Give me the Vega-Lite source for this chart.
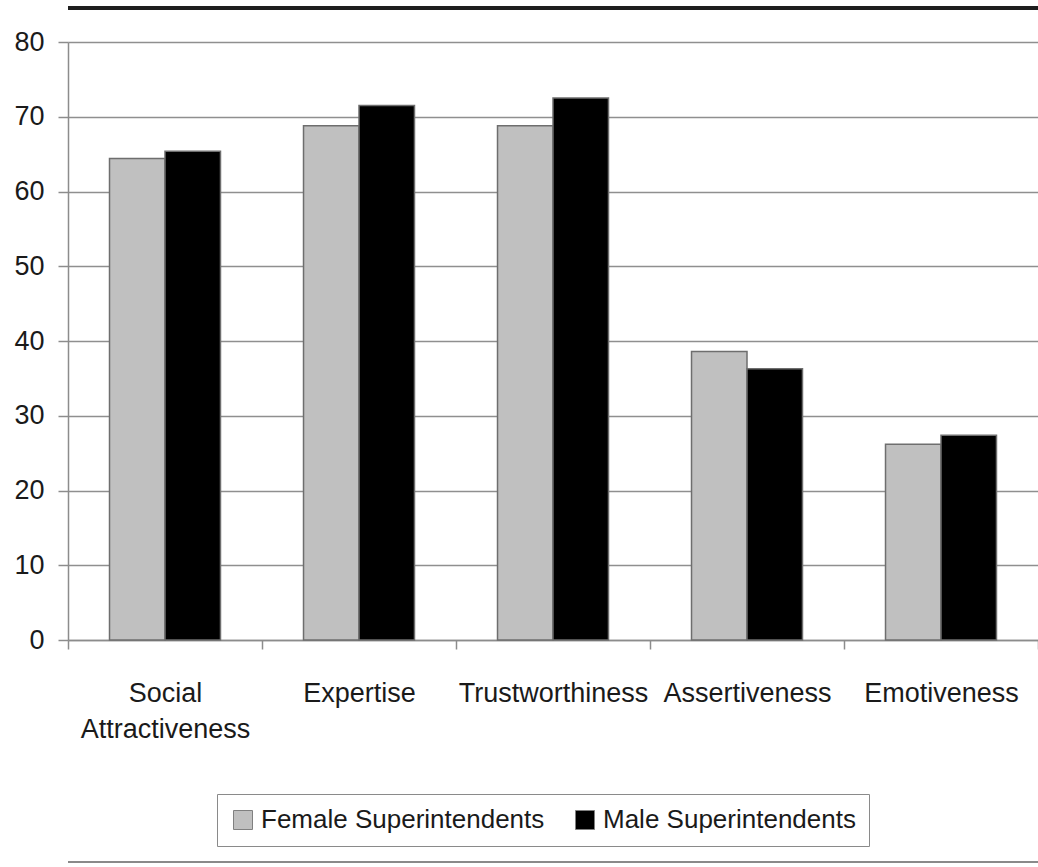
{
  "$schema": "https://vega.github.io/schema/vega-lite/v6.json",
  "width": 970,
  "height": 598,
  "autosize": {"type": "none"},
  "padding": {"left": 68, "top": 42, "right": 0, "bottom": 227},
  "background": "white",
  "config": {"view": {"stroke": null}, "font": "Liberation Sans"},
  "data": {
    "values": [
      {"trait": "Social Attractiveness", "group": "Female Superintendents", "score": 64.4},
      {"trait": "Social Attractiveness", "group": "Male Superintendents", "score": 65.4},
      {"trait": "Expertise", "group": "Female Superintendents", "score": 68.8},
      {"trait": "Expertise", "group": "Male Superintendents", "score": 71.5},
      {"trait": "Trustworthiness", "group": "Female Superintendents", "score": 68.8},
      {"trait": "Trustworthiness", "group": "Male Superintendents", "score": 72.5},
      {"trait": "Assertiveness", "group": "Female Superintendents", "score": 38.6},
      {"trait": "Assertiveness", "group": "Male Superintendents", "score": 36.3},
      {"trait": "Emotiveness", "group": "Female Superintendents", "score": 26.2},
      {"trait": "Emotiveness", "group": "Male Superintendents", "score": 27.4}
    ]
  },
  "layer": [
    {
      "mark": {"type": "bar", "stroke": "#6e6e6e", "strokeWidth": 1.5},
      "encoding": {
        "x": {
          "field": "trait", "type": "nominal", "sort": null,
          "scale": {"paddingInner": 0, "paddingOuter": 0},
          "axis": {
            "title": null, "tickBand": "extent", "tickSize": 9, "tickColor": "#8c8c8c", "tickWidth": 1.5,
            "domainColor": "#8c8c8c", "domainWidth": 1.5, "labelAngle": 0, "labelFontSize": 27,
            "labelPadding": 31, "labelLineHeight": 36, "labelColor": "#1a1a1a", "labelLimit": 0,
            "labelBaseline": "top",
            "labelExpr": "datum.value == 'Social Attractiveness' ? ['Social', 'Attractiveness'] : datum.label",
            "grid": false
          }
        },
        "xOffset": {
          "field": "group", "type": "nominal", "sort": null,
          "scale": {"paddingInner": 0, "paddingOuter": 0.748}
        },
        "y": {
          "field": "score", "type": "quantitative",
          "scale": {"domain": [0, 80], "nice": false},
          "axis": {
            "title": null, "values": [0, 10, 20, 30, 40, 50, 60, 70, 80],
            "domainColor": "#8c8c8c", "domainWidth": 1.5, "tickColor": "#8c8c8c", "tickWidth": 1.5,
            "tickSize": 10, "labelPadding": 14, "labelFontSize": 27, "labelColor": "#1a1a1a",
            "grid": true, "gridColor": "#8f8f8f", "gridWidth": 1.5
          }
        },
        "color": {
          "field": "group", "type": "nominal", "sort": null,
          "scale": {"domain": ["Female Superintendents", "Male Superintendents"], "range": ["#c0c0c0", "#000000"]},
          "legend": {
            "orient": "none", "legendX": 149, "legendY": 752, "direction": "horizontal", "title": null,
            "symbolType": "square", "symbolSize": 361, "symbolStrokeColor": "#808080", "symbolStrokeWidth": 1,
            "labelFontSize": 26, "labelColor": "#1a1a1a", "labelOffset": 5, "columnPadding": 27,
            "padding": 13, "strokeColor": "#8a8a8a", "fillColor": "white", "labelLimit": 0
          }
        }
      }
    },
    {
      "mark": {"type": "rule", "color": "#1e1e1e", "strokeWidth": 4},
      "encoding": {"y": {"datum": 84.55}}
    },
    {
      "mark": {"type": "rule", "color": "#8a8a8a", "strokeWidth": 2},
      "encoding": {"y": {"datum": -29.7}}
    }
  ]
}
